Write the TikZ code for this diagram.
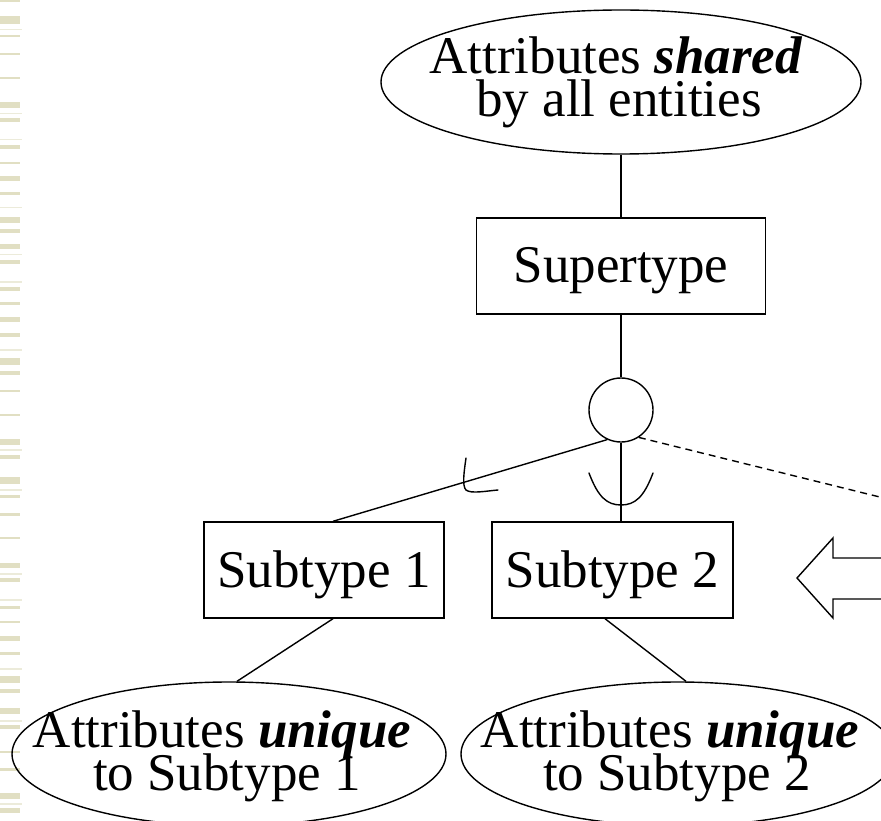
\documentclass[tikz,border=0pt]{standalone}
\usepackage{fontspec}
\setmainfont{Liberation Serif}
\usetikzlibrary{shapes.geometric,calc}
\definecolor{stripe}{RGB}{225,223,195}
\definecolor{stripelt}{RGB}{236,235,218}
\begin{document}
\begin{tikzpicture}[x=1pt,y=-1pt,line width=1.4pt,
  every node/.style={inner sep=0pt},
  bigtext/.style={font=\fontsize{53}{44}\selectfont, anchor=base},
  oval/.style={draw, ellipse, minimum height=144pt},
  boxnode/.style={draw, rectangle, minimum height=96pt, text height=40pt, text depth=6pt, font=\fontsize{53}{60}\selectfont},
  subsetmark/.style={line width=1.4pt, line cap=round},
  band/.style={fill=stripe},
  thinband/.style={fill=stripelt}]
\clip (0,0) rectangle (881,821);
\fill[white] (0,0) rectangle (881,821);
% decorative stripes on the left edge
\foreach \a/\b in {0/2,16/24,35/37,53/55,77/79,102/108,118/122,145/149,162/164,176/181,192/195,217/223,229/233,244/249,260/264,287/291,302/305,317/322,333/337,358/365,371/375,390/392,414/416,439/445,455/459,477/484,495/498,513/516,537/539,563/568,578/582,606/609,621/623,636/641,652/655,676/683,689/693,708/714,725/729,751/753,768/771,793/799,808/813}
  \fill[band] (0,\a) rectangle (20,\b);
\foreach \a in {29,113,139,207,254,281,349,449,489,573,599,668,720,803}
  \fill[thinband] (0,\a) rectangle (22,\a+1.5);
% block arrow
\draw[line join=miter] (797,578) -- (833,538) -- (833,558) -- (895,558) -- (895,599) -- (833,599) -- (833,618) -- cycle;
% nodes
\node[oval, minimum width=480pt] (topell) at (621,82) {};
\node[bigtext] (toptxt1) at (616,74) {Attributes \textbf{\textit{shared}}};
\node[bigtext] (toptxt2) at (619,117) {by all entities};
\node[boxnode, minimum width=289pt] (super) at (621,266) {Supertype};
\node[draw, circle, minimum size=64pt] (gen) at (621,410) {};
\node[boxnode, minimum width=240pt] (sub1) at (324,570) {Subtype 1};
\node[boxnode, minimum width=241pt] (sub2) at (612.5,570) {Subtype 2};
\node[oval, minimum width=434pt] (uell1) at (229,754) {};
\node[bigtext] (u1txt1) at (222,747) {Attributes \textbf{\textit{unique}}};
\node[bigtext] (u1txt2) at (227,790) {to Subtype 1};
\node[oval, minimum width=434pt] (uell2) at (678,754) {};
\node[bigtext] (u2txt1) at (670,747) {Attributes \textbf{\textit{unique}}};
\node[bigtext] (u2txt2) at (677,790) {to Subtype 2};
\coordinate (dashend) at (900,502);
% connectors
\draw (topell.south) -- (super.north);
\draw (super.south) -- (gen.north);
\draw (gen.south) -- (gen.south |- sub2.north);
\draw (gen.245) -- ($(sub1.north)+(9,0)$);
\draw[dash pattern=on 7pt off 5pt] (gen.303) -- (dashend);
\draw ($(sub1.south)+(9,0)$) -- ($(uell1.north)+(8,0)$);
\draw ($(sub2.south)+(-7.5,0)$) -- ($(uell2.north)+(8,0)$);
% subset marks
\draw[subsetmark] (466,458) .. controls (464,472) and (462,486) .. (466,490) .. controls (471,494) and (486,491) .. (498,490);
\draw[subsetmark] (589,473) .. controls (598,497) and (607,505) .. (621,505) .. controls (635,505) and (644,497) .. (653,473);
\end{tikzpicture}
\end{document}
